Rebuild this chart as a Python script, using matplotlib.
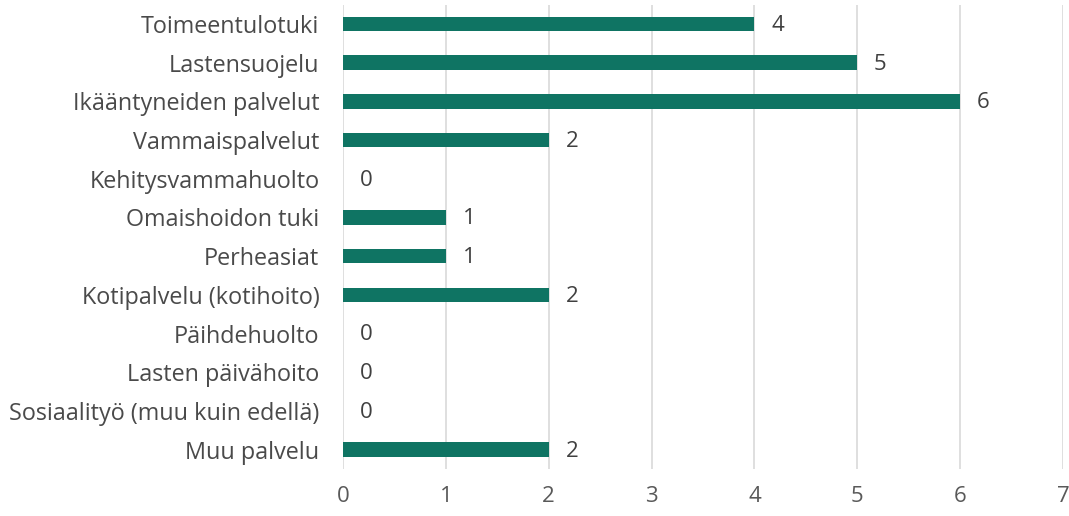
import matplotlib.pyplot as plt
import numpy as np

categories = ['Toimeentulotuki', 'Lastensuojelu', 'Ikääntyneiden palvelut',
              'Vammaispalvelut', 'Kehitysvammahuolto', 'Omaishoidon tuki',
              'Perheasiat', 'Kotipalvelu (kotihoito)', 'Päihdehuolto',
              'Lasten päivähoito', 'Sosiaalityö (muu kuin edellä)', 'Muu palvelu']
values = [4, 5, 6, 2, 0, 1, 1, 2, 0, 0, 0, 2]

plt.rcParams['font.family'] = ['Open Sans', 'DejaVu Sans']

fig = plt.figure(figsize=(10.69, 5.16), dpi=100)
ax = fig.add_axes([0.3209, 0.0911, 0.6735, 0.9])

y_pos = np.arange(len(categories))
ax.barh(y_pos, values, height=0.37, color='#0f7463', zorder=3)
ax.set_ylim(len(categories) - 0.5, -0.5)
ax.set_xlim(0, 7)

for i, v in enumerate(values):
    ax.annotate(str(v), (v, i), xytext=(12, -1), textcoords='offset points',
                ha='left', va='center', fontsize=16, color='#404040')

ax.set_yticks(y_pos)
ax.set_yticklabels(categories, fontsize=16.8, color='#4a4a4a')
ax.set_xticks(range(8))
ax.tick_params(axis='x', labelsize=16, labelcolor='#595959', length=0, pad=12)
ax.tick_params(axis='y', length=0, pad=17)
ax.grid(axis='x', color='#d9d9d9', linewidth=1.2, zorder=0)
for s in ax.spines.values():
    s.set_visible(False)

plt.savefig('out.png')
